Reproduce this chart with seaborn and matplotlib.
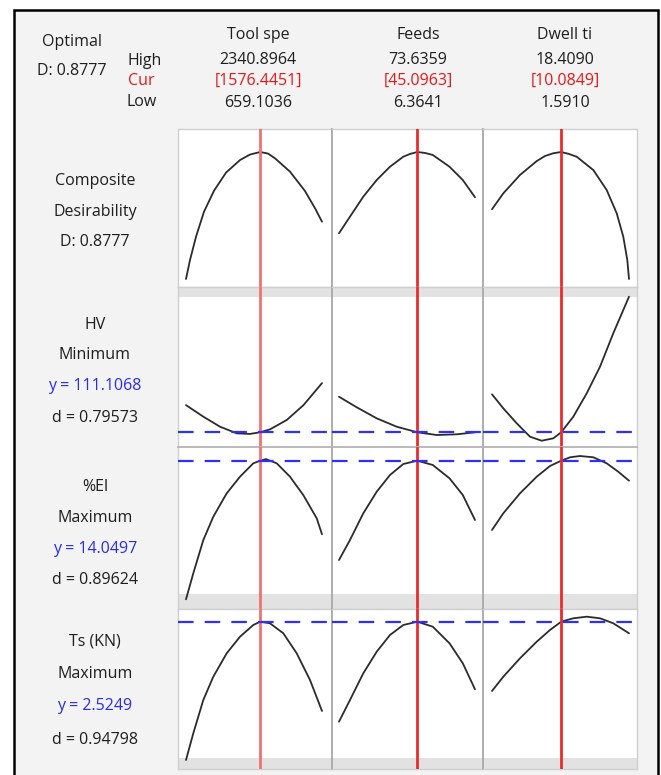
import numpy as np
import pandas as pd
import matplotlib
matplotlib.use("Agg")
import matplotlib.pyplot as plt
import seaborn as sns
from matplotlib.patches import Rectangle

# ---------------- data ----------------
factors = ["Tool spe", "Feeds", "Dwell ti"]
high_vals = [2340.8964, 73.6359, 18.4090]
cur_vals = [1576.4451, 45.0963, 10.0849]
low_vals = [659.1036, 6.3641, 1.5910]
high_txt = ["2340.8964", "73.6359", "18.4090"]
cur_txt = ["[1576.4451]", "[45.0963]", "[10.0849]"]
low_txt = ["659.1036", "6.3641", "1.5910"]

resp_names = ["Composite\nDesirability", "HV", "%El", "Ts (KN)"]
resp_goals = ["", "Minimum", "Maximum", "Maximum"]
resp_y = [0.8777, 111.1068, 14.0497, 2.5249]
resp_y_txt = ["D: 0.8777", "y = 111.1068", "y = 14.0497", "y = 2.5249"]
resp_d_txt = ["", "d = 0.79573", "d = 0.89624", "d = 0.94798"]

# Composite desirability
tool_x_D = [659.1, 708.6, 782.8, 881.7, 1005.4, 1153.7, 1326.9, 1450.5, 1576.4451, 1673.1, 1759.7, 1945.2, 2130.7, 2254.3, 2340.9]
tool_D = [0.0, 0.131, 0.292, 0.465, 0.610, 0.735, 0.822, 0.860, 0.8777, 0.867, 0.834, 0.742, 0.608, 0.489, 0.396]
feed_x_D = [6.364, 11.80, 18.38, 25.01, 31.59, 38.17, 41.48, 45.0963, 48.90, 52.76, 61.02, 67.60, 73.636]
feed_D = [0.316, 0.431, 0.569, 0.684, 0.776, 0.845, 0.864, 0.8777, 0.871, 0.857, 0.776, 0.684, 0.565]
dwell_x_D = [1.591, 2.98, 5.03, 7.08, 8.10, 9.12, 10.0849, 11.04, 11.99, 14.03, 15.67, 16.90, 17.71, 18.20, 18.409]
dwell_D = [0.482, 0.592, 0.719, 0.815, 0.850, 0.869, 0.8777, 0.864, 0.845, 0.753, 0.615, 0.454, 0.292, 0.131, 0.0]

# HV
tool_x_HV = [659.1, 874.0, 1080.0, 1286.0, 1451.0, 1576.4451, 1700.0, 1906.0, 2112.0, 2340.9]
tool_HV = [117.9, 115.0, 112.5, 110.85, 110.7, 111.1068, 111.86, 114.2, 117.9, 123.4]
feed_x_HV = [6.364, 15.12, 25.01, 34.90, 45.0963, 54.69, 64.58, 73.636]
feed_HV = [120.0, 117.36, 114.6, 112.5, 111.1068, 110.43, 110.6, 111.1]
dwell_x_HV = [1.591, 2.98, 4.62, 6.26, 7.69, 9.12, 10.0849, 11.57, 13.22, 14.85, 16.48, 18.409]
dwell_HV = [120.6, 117.1, 113.36, 110.0, 109.0, 109.6, 111.1068, 115.0, 120.86, 127.5, 135.86, 145.0]

# %El
tool_x_El = [659.1, 749.4, 873.0, 996.7, 1162.4, 1326.9, 1491.3, 1576.4451, 1648.4, 1780.7, 1945.2, 2109.7, 2275.4, 2340.9]
tool_El = [7.12, 8.42, 10.08, 11.25, 12.42, 13.25, 13.92, 14.0497, 14.13, 13.92, 13.25, 12.33, 11.17, 10.37]
feed_x_El = [6.364, 11.80, 18.38, 25.01, 31.59, 38.17, 45.0963, 52.76, 61.02, 67.60, 73.636]
feed_El = [9.085, 10.085, 11.42, 12.50, 13.335, 13.885, 14.0497, 13.835, 13.17, 12.335, 11.085]
dwell_x_El = [1.591, 2.98, 5.03, 7.08, 8.71, 10.0849, 11.17, 12.39, 14.03, 15.67, 17.09, 18.409]
dwell_El = [10.585, 11.42, 12.42, 13.25, 13.785, 14.0497, 14.22, 14.285, 14.22, 13.92, 13.50, 13.05]

# Ts (KN)
tool_x_Ts = [659.1, 749.4, 873.0, 996.7, 1162.4, 1326.9, 1491.3, 1576.4451, 1697.8, 1862.3, 2028.0, 2192.5, 2340.9]
tool_Ts = [1.142, 1.409, 1.742, 1.975, 2.209, 2.375, 2.492, 2.5249, 2.509, 2.409, 2.209, 1.942, 1.632]
feed_x_Ts = [6.364, 11.80, 18.38, 25.01, 31.59, 38.17, 45.0963, 52.76, 61.02, 67.60, 73.636]
feed_Ts = [1.525, 1.742, 2.009, 2.225, 2.392, 2.492, 2.5249, 2.475, 2.309, 2.109, 1.849]
dwell_x_Ts = [1.591, 2.98, 5.03, 7.08, 8.71, 10.0849, 11.57, 13.22, 14.85, 16.48, 18.409]
dwell_Ts = [1.832, 1.975, 2.159, 2.325, 2.442, 2.5249, 2.559, 2.575, 2.559, 2.509, 2.409]

curves = [
    [(tool_x_D, tool_D), (feed_x_D, feed_D), (dwell_x_D, dwell_D)],
    [(tool_x_HV, tool_HV), (feed_x_HV, feed_HV), (dwell_x_HV, dwell_HV)],
    [(tool_x_El, tool_El), (feed_x_El, feed_El), (dwell_x_El, dwell_El)],
    [(tool_x_Ts, tool_Ts), (feed_x_Ts, feed_Ts), (dwell_x_Ts, dwell_Ts)],
]

# ---------------- layout / style ----------------
W, H = 661, 775
sns.set_theme(style="white")
plt.rcParams['font.family'] = ['Open Sans', 'DejaVu Sans']

fig = plt.figure(figsize=(W / 100, H / 100), dpi=100)
fig.patch.set_facecolor("white")

def fx(px):
    return px / W

def fy(py):
    return 1 - py / H

# frame
fig.add_artist(Rectangle((fx(14), fy(780)), fx(658) - fx(14), fy(10) - fy(780),
                         transform=fig.transFigure, facecolor="#f3f3f3",
                         edgecolor="black", lw=1.8, zorder=0))

col_px = [(178, 332), (332, 483), (483, 637)]
curve_px = [(186, 322), (339, 475), (492, 629)]
row_px = [(129, 287), (287, 447), (447, 609), (609, 769)]
ylims = [(-0.0553, 1.0366), (107.43, 147.43), (6.635, 14.735), (1.0519, 2.6519)]
bands = [None, (144.93, 147.43), (6.635, 7.385), (1.0519, 1.1619)]
red_cols = ["#f27070", "#ec2a2a", "#ec2a2a"]

for r, (y0, y1) in enumerate(row_px):
    for c, (x0, x1) in enumerate(col_px):
        ax = fig.add_axes([fx(x0), fy(y1), fx(x1) - fx(x0), fy(y0) - fy(y1)])
        ax.set_facecolor("white")
        lo, hi = low_vals[c], high_vals[c]
        c0, c1 = curve_px[c]
        s = (hi - lo) / (c1 - c0)
        ax.set_xlim(lo - (c0 - x0) * s, hi + (x1 - c1) * s)
        ax.set_ylim(*ylims[r])
        if bands[r] is not None:
            ax.axhspan(bands[r][0], bands[r][1], color="#e2e2e2", lw=0, zorder=0)
        xs, ys = curves[r][c]
        df = pd.DataFrame({"x": xs, "y": ys})
        sns.lineplot(data=df, x="x", y="y", ax=ax, color="#2b2b2b", lw=1.3,
                     sort=False, estimator=None, zorder=3)
        ax.axvline(cur_vals[c], color=red_cols[c], lw=2.0, zorder=4)
        if r > 0:
            ax.axhline(resp_y[r], color="#2f2ff5", lw=1.6,
                       linestyle=(0, (7, 5)), zorder=5)
        ax.set_xticks([])
        ax.set_yticks([])
        ax.set_xlabel("")
        ax.set_ylabel("")
        for side, sp in ax.spines.items():
            sp.set_color("#cfcfcf")
            sp.set_linewidth(1.0)
        if c > 0:
            ax.spines["left"].set_color("#a8a8a8")
            ax.spines["left"].set_linewidth(1.3)
        if r == 2:
            ax.spines["top"].set_color("#b5b5b5")
            ax.spines["top"].set_linewidth(1.3)

# ---------------- header text ----------------
fs = 11.5
tc = "#1e1e1e"
fig.text(fx(72), fy(42), "Optimal", ha="center", va="center", fontsize=fs, color=tc)
fig.text(fx(72), fy(71), "D: 0.8777", ha="center", va="center", fontsize=fs, color=tc)
fig.text(fx(145), fy(61), "High", ha="center", va="center", fontsize=fs, color=tc)
fig.text(fx(141), fy(81), "Cur", ha="center", va="center", fontsize=fs, color="#e41a1a")
fig.text(fx(142), fy(102), "Low", ha="center", va="center", fontsize=fs, color=tc)

col_centers = [258, 418, 565]
for c in range(3):
    xc = fx(col_centers[c])
    fig.text(xc, fy(35), factors[c], ha="center", va="center", fontsize=fs, color=tc)
    fig.text(xc, fy(60), high_txt[c], ha="center", va="center", fontsize=fs, color=tc)
    fig.text(xc, fy(81), cur_txt[c], ha="center", va="center", fontsize=fs, color="#e41a1a")
    fig.text(xc, fy(103), low_txt[c], ha="center", va="center", fontsize=fs, color=tc)

# ---------------- left response labels ----------------
lx = fx(95)
fig.text(lx, fy(181), "Composite", ha="center", va="center", fontsize=fs, color=tc)
fig.text(lx, fy(212), "Desirability", ha="center", va="center", fontsize=fs, color=tc)
fig.text(lx, fy(242), resp_y_txt[0], ha="center", va="center", fontsize=fs, color=tc)

label_rows = [(325, 355, 386, 418), (487, 518, 549, 580), (642, 674, 706, 740)]
for i, r in enumerate([1, 2, 3]):
    a, b, cc, d = label_rows[i]
    fig.text(lx, fy(a), resp_names[r], ha="center", va="center", fontsize=fs, color=tc)
    fig.text(lx, fy(b), resp_goals[r], ha="center", va="center", fontsize=fs, color=tc)
    fig.text(lx, fy(cc), resp_y_txt[r], ha="center", va="center", fontsize=fs, color="#2b2bf0")
    fig.text(lx, fy(d), resp_d_txt[r], ha="center", va="center", fontsize=fs, color=tc)

fig.savefig("out.png", dpi=100, facecolor="white")
